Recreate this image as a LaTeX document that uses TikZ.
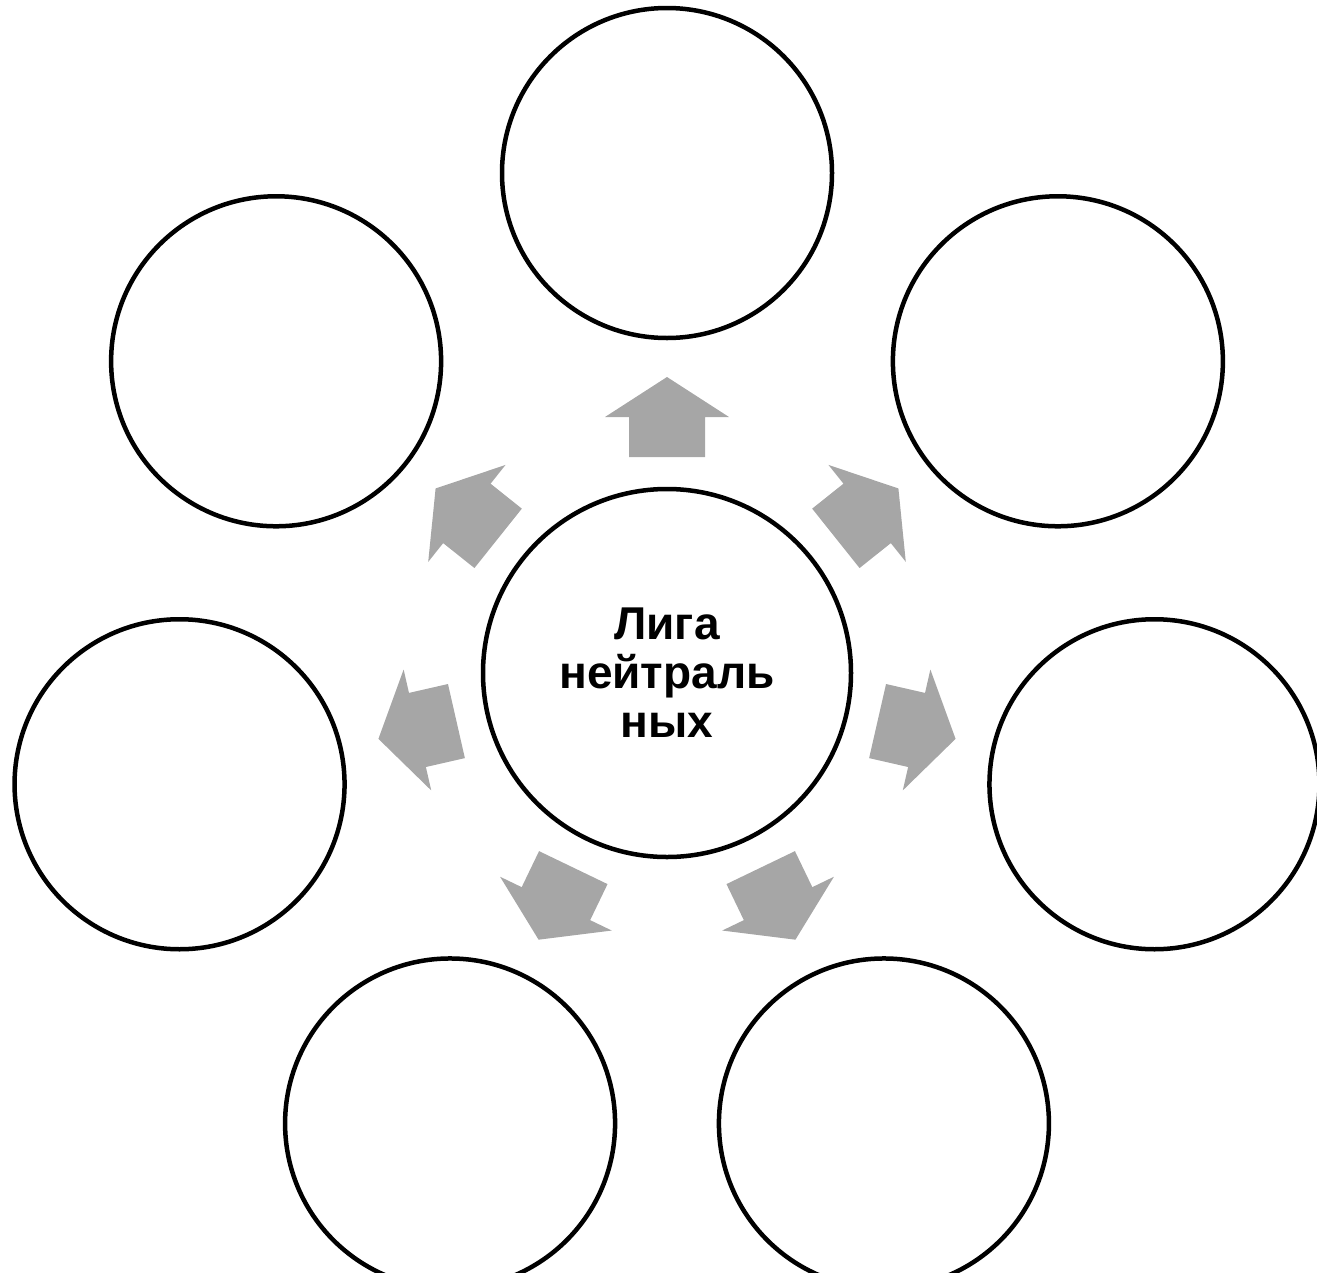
\documentclass[tikz,border=0pt]{standalone}
\usepackage{fontspec}
\setmainfont{Liberation Sans}
\usetikzlibrary{calc}
\definecolor{arrgray}{RGB}{166,166,166}
\begin{document}
\begin{tikzpicture}[x=1pt,y=-1pt,
  ring/.style={circle, draw=black, line width=4.5pt, minimum size=330pt, inner sep=0pt},
  hub/.style={circle, draw=black, line width=4.5pt, minimum size=368pt, inner sep=0pt,
    font=\bfseries\fontsize{46}{49}\selectfont, align=center},
  blockarrow/.style={fill=arrgray}]
\useasboundingbox (0,0) rectangle (1317,1272);
\clip (0,0) rectangle (1317,1272);
\node[hub] (c) at (667,673) {Лига\\нейтраль\\ных};
\foreach \a [count=\i] in {-90, -38.571, 12.857, 64.286, 115.714, 167.143, 218.571} {
  \node[ring] (o\i) at ($(c.center)+(\a:500)$) {};
  \fill[blockarrow]
    ($(c.center)+(\a:216)+(\a+90:38)$) --
    ($(c.center)+(\a:256)+(\a+90:38)$) --
    ($(c.center)+(\a:256)+(\a+90:62)$) --
    ($(c.center)+(\a:296)$) --
    ($(c.center)+(\a:256)+(\a-90:62)$) --
    ($(c.center)+(\a:256)+(\a-90:38)$) --
    ($(c.center)+(\a:216)+(\a-90:38)$) -- cycle;
}
\end{tikzpicture}
\end{document}
